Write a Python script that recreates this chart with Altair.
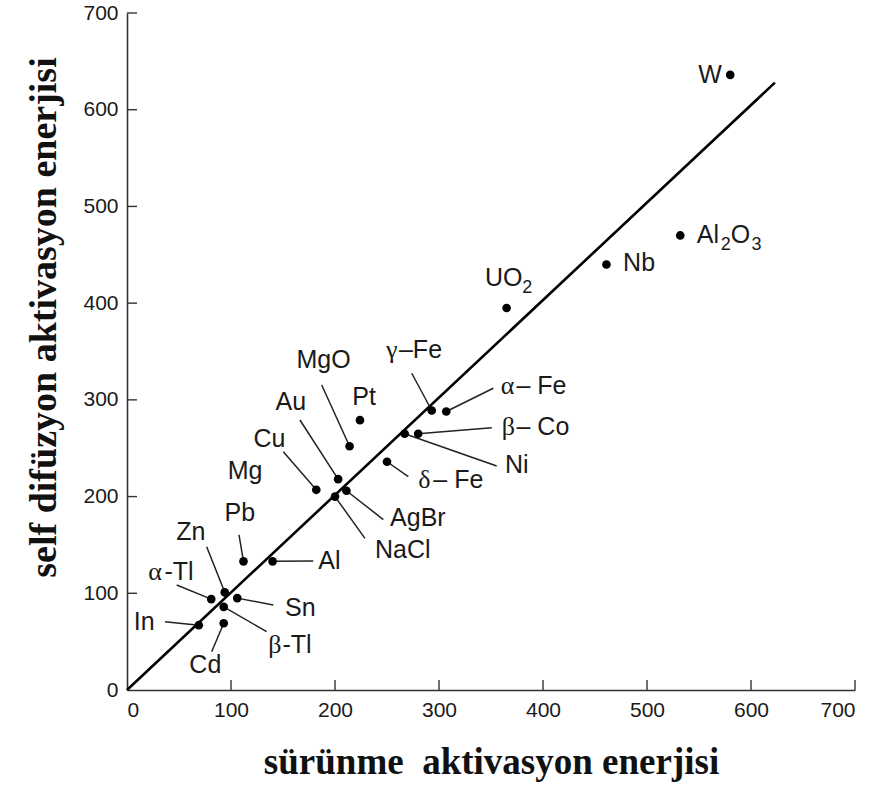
import altair as alt
import pandas as pd

# --- data ---
names = ["W", "Al2O3", "Nb", "UO2", "γ-Fe", "α-Fe", "Ni", "β-Co", "Pt", "MgO", "δ-Fe",
         "Au", "Cu", "NaCl", "AgBr", "Pb", "Al", "Zn", "α-Tl", "Sn", "β-Tl", "In", "Cd"]
creep_q = [580, 532, 461, 365, 293, 307, 267, 280, 224, 214, 250,
           203, 182, 200, 211, 112, 140, 94, 81, 106, 93, 69, 93]
self_diff_q = [636, 470, 440, 395, 289, 288, 265, 265, 279, 252, 236,
               218, 207, 200, 206, 133, 133, 101, 94, 95, 86, 67, 69]

# fitted line end points
fit_x = [0, 623]
fit_y = [0, 628]

# label pieces: text, anchor x, anchor y, alignment, kind (sans / greek / sub)
label_text = ["W", "Al", "2", "O", "3", "Nb", "UO", "2",
              "γ", "–Fe", "α", "– Fe", "β", "– Co", "Ni", "δ", "– Fe",
              "Pt", "MgO", "Au", "Cu", "Mg", "AgBr", "NaCl", "Pb", "Al", "Zn",
              "α", "-Tl", "Sn", "β", "-Tl", "In", "Cd"]
label_x = [572, 547.8, 570.9, 580.5, 600.5, 477, 344.2, 380,
           249, 261.5, 359.3, 374.5, 360.3, 374.5, 363.5, 280, 294.5,
           228, 189, 157.5, 137, 113.5, 253, 238.5, 108.5, 184, 61.4,
           20.5, 36, 152, 135.9, 149.5, 16.5, 75.3]
label_y = [636, 470.5, 460.2, 470.5, 460.2, 441, 426, 415.4,
           352, 352, 314, 314, 272, 272, 233, 217, 217,
           303, 341, 298, 260, 226, 177.6, 145, 182.6, 133, 163.7,
           122.3, 122.3, 84.4, 46.5, 46.5, 70.6, 26]
label_align = ["right", "left", "left", "left", "left", "left", "left", "left",
               "left", "left", "left", "left", "left", "left", "left", "left", "left",
               "center", "center", "center", "center", "center", "left", "left", "center",
               "left", "center",
               "left", "left", "left", "left", "left", "center", "center"]
label_kind = ["sans", "sans", "sub", "sans", "sub", "sans", "sans", "sub",
              "greek", "sans", "greek", "sans", "greek", "sans", "sans", "greek", "sans",
              "sans", "sans", "sans", "sans", "sans", "sans", "sans", "sans", "sans", "sans",
              "greek", "sans", "sans", "greek", "sans", "sans", "sans"]

# leader lines: point name and label-side end
leader_name = ["γ-Fe", "α-Fe", "β-Co", "Ni", "δ-Fe", "MgO", "Au", "Cu", "AgBr", "NaCl",
               "Pb", "Al", "Zn", "α-Tl", "Sn", "β-Tl", "In", "Cd"]
leader_x = [273.8, 352.2, 350.7, 355.5, 270.5, 187.2, 166.3, 150.3, 246.5, 228.8,
            107.7, 179.1, 76.6, 47.8, 140.7, 134.3, 36.5, 81.4]
leader_y = [327.5, 312, 271.2, 231.6, 220.6, 315.4, 279.2, 246.4, 176.2, 156.8,
            160.3, 133.4, 148.2, 108.6, 87.9, 60.3, 70.6, 39.6]

tick_values = [0, 100, 200, 300, 400, 500, 600, 700]
inner_ticks = [100, 200, 300, 400, 500, 600, 700]

# --- tables ---
pts = pd.DataFrame({"name": names, "x": creep_q, "y": self_diff_q})
pos = dict(zip(names, zip(creep_q, self_diff_q)))
lead = pd.DataFrame({
    "x": leader_x, "y": leader_y,
    "x2": [pos[n][0] for n in leader_name],
    "y2": [pos[n][1] for n in leader_name],
})
labs = pd.DataFrame({"t": label_text, "x": label_x, "y": label_y,
                     "a": label_align, "k": label_kind})
fit = pd.DataFrame({"x": fit_x, "y": fit_y})
xt = pd.DataFrame({"x": inner_ticks, "y": 0, "l": 10.3})
yt = pd.DataFrame({"y": inner_ticks, "x": 0, "l": 9.6})

xs = alt.Scale(domain=[0, 700], nice=False)
ys = alt.Scale(domain=[0, 700], nice=False)

axis_common = dict(values=tick_values, ticks=False, grid=False, domainColor="#333333",
                   domainWidth=1.6, labelFont="Liberation Sans", labelFontSize=21,
                   labelColor="#1a1a1a", labelPadding=9, titleFont="Liberation Serif",
                   titleFontWeight="bold", titleColor="#111111")

x_axis = alt.Axis(title="sürünme\u00a0 aktivasyon enerjisi", titleFontSize=37,
                  titleX=364, titleY=83, titleBaseline="alphabetic", titleAlign="center",
                  **axis_common)
y_axis = alt.Axis(title="self difüzyon aktivasyon enerjisi", titleFontSize=38,
                  titleAngle=270, titleX=-83, titleY=304, titleBaseline="middle",
                  titleAlign="center", **axis_common)


def X(f="x"):
    return alt.X(f + ":Q", scale=xs, axis=x_axis)


def Y(f="y"):
    return alt.Y(f + ":Q", scale=ys, axis=y_axis)


base_fit = alt.Chart(fit).mark_line(color="black", strokeWidth=2.6).encode(x=X(), y=Y())

xticks = alt.Chart(xt).mark_rule(color="#333333", strokeWidth=1.4).encode(
    x=X(), y=Y(), y2="l:Q")
yticks = alt.Chart(yt).mark_rule(color="#333333", strokeWidth=1.4).encode(
    y=Y(), x=X(), x2="l:Q")

leaders = alt.Chart(lead).mark_rule(color="#222222", strokeWidth=1.5).encode(
    x=X(), y=Y(), x2="x2:Q", y2="y2:Q")

dots = alt.Chart(pts).mark_circle(color="black", opacity=1, size=75).encode(x=X(), y=Y())

styles = {
    "sans": dict(font="Liberation Sans", fontSize=25),
    "greek": dict(font="Liberation Serif", fontSize=26),
    "sub": dict(font="Liberation Sans", fontSize=18),
}

text_layers = []
for k, st in styles.items():
    for a in ["left", "center", "right"]:
        sub = labs[(labs["a"] == a) & (labs["k"] == k)]
        if len(sub) == 0:
            continue
        text_layers.append(
            alt.Chart(sub).mark_text(
                align=a, baseline="middle", color="#1a1a1a", **st
            ).encode(x=X(), y=Y(), text="t:N")
        )

chart = alt.layer(base_fit, xticks, yticks, leaders, dots, *text_layers).properties(
    width=728, height=677,
    background="white",
    autosize=alt.AutoSizeParams(type="none"),
    padding={"left": 127, "top": 13, "right": 36, "bottom": 97},
).configure_view(stroke=None)

chart.save("out.html", embed_options={"renderer": "svg", "actions": False})
